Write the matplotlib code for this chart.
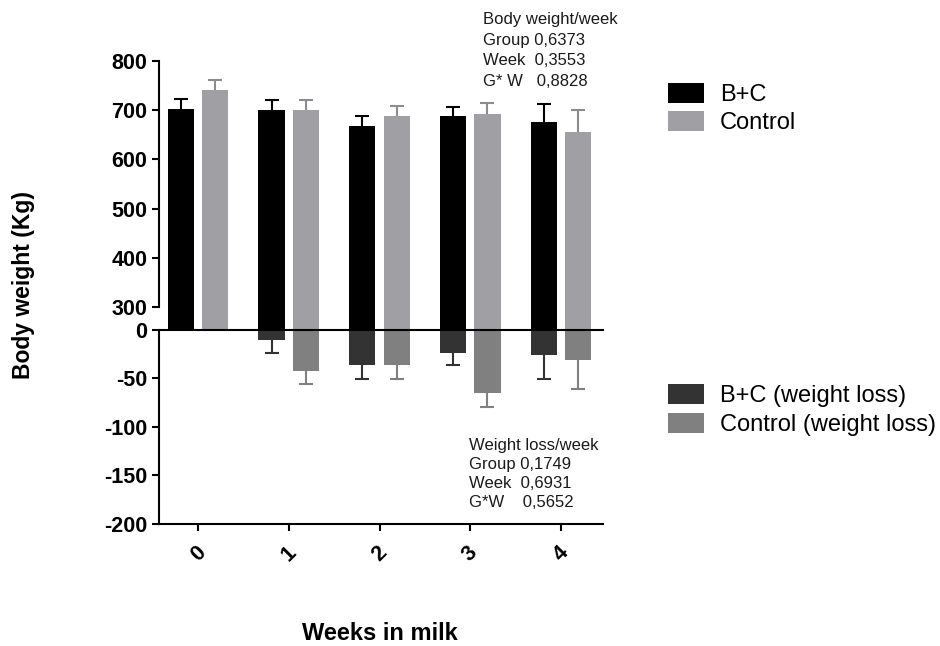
import matplotlib
matplotlib.use("Agg")
import matplotlib.pyplot as plt
from matplotlib.patches import Patch
import numpy as np

plt.rcParams['font.family'] = ['Liberation Sans', 'DejaVu Sans']

weeks = [0, 1, 2, 3, 4]
week_labels = ["0", "1", "2", "3", "4"]

bw_bc = [702, 700, 667, 688, 676]
bw_bc_err = [20, 20, 21, 19, 37]
bw_ctrl = [741, 700, 689, 693, 655]
bw_ctrl_err = [20, 20, 20, 22, 46]

wl_bc = [0, -11, -37, -24, -26]
wl_bc_err = [0, 13, 14, 13, 25]
wl_ctrl = [0, -43, -37, -65, -31]
wl_ctrl_err = [0, 13, 14, 15, 30]

top_text = "Body weight/week\nGroup 0,6373\nWeek  0,3553\nG* W   0,8828"
bottom_text = "Weight loss/week\nGroup 0,1749\nWeek  0,6931\nG*W    0,5652"

c_bc = "#000000"
c_ctrl = "#a0a0a4"
c_ctrl_err = "#8c8c90"
c_wbc = "#333333"
c_wctrl = "#808080"

W, H = 940, 646
fig = plt.figure(figsize=(W / 100, H / 100), dpi=100)

left = 159 / W
width = (603 - 159) / W
y0 = 329.5
ax_top = fig.add_axes([left, 1 - y0 / H, width, (y0 - 61) / H])
ax_bot = fig.add_axes([left, 1 - 524 / H, width, (524 - y0) / H])

x = np.array(weeks, dtype=float)
off = 0.19
bw = 0.29
lw = 1.5
cap = 9.4


def up_err(ax, xs, ys, errs, color, sign):
    xs = np.asarray(xs, float)
    ys = np.asarray(ys, float)
    errs = np.asarray(errs, float)
    m = errs > 0
    ends = ys[m] + sign * errs[m]
    ax.vlines(xs[m], ys[m], ends, colors=color, linewidth=lw)
    ax.plot(xs[m], ends, ls='none', marker='_', markersize=cap, markeredgewidth=lw,
            color=color)


ax_top.bar(x - off, bw_bc, width=bw, color=c_bc)
ax_top.bar(x + off, bw_ctrl, width=bw, color=c_ctrl)
up_err(ax_top, x - off, bw_bc, bw_bc_err, c_bc, 1)
up_err(ax_top, x + off, bw_ctrl, bw_ctrl_err, c_ctrl_err, 1)

ax_bot.bar(x - off, wl_bc, width=bw, color=c_wbc)
ax_bot.bar(x + off, wl_ctrl, width=bw, color=c_wctrl)
up_err(ax_bot, x - off, wl_bc, wl_bc_err, c_wbc, -1)
up_err(ax_bot, x + off, wl_ctrl, wl_ctrl_err, c_wctrl, -1)

tfs = 15.5
xl = (-0.43, 4.463)
for ax in (ax_top, ax_bot):
    ax.set_xlim(*xl)
    ax.patch.set_alpha(0)
    for s in ax.spines.values():
        s.set_linewidth(lw)
    ax.spines['right'].set_visible(False)
    ax.tick_params(axis='both', width=lw, length=5, labelsize=tfs)

ax_top.set_ylim(254.3, 800)
ax_top.set_yticks([300, 400, 500, 600, 700, 800])
ax_top.set_yticklabels(["300", "400", "500", "600", "700", "800"], fontweight='bold', fontsize=tfs)
ax_top.spines['top'].set_visible(False)
ax_top.spines['bottom'].set_visible(False)
ax_top.spines['left'].set_bounds(300, 800)
ax_top.set_xticks([])

ax_bot.set_ylim(-200, 0)
ax_bot.set_yticks([0, -50, -100, -150, -200])
ax_bot.set_yticklabels(["0", "-50", "-100", "-150", "-200"], fontweight='bold', fontsize=tfs)
ax_bot.spines['top'].set_visible(True)
ax_bot.set_xticks(x)
ax_bot.set_xticklabels(week_labels, rotation=45, ha='center', va='top',
                       fontweight='bold', fontsize=tfs)
ax_bot.tick_params(axis='x', pad=8)

fig.text(24 / W, 1 - 285 / H, "Body weight (Kg)", rotation=90, ha='center', va='center',
         fontsize=16.5, fontweight='bold')
fig.text(380 / W, 1 - 633 / H, "Weeks in milk", ha='center', va='center',
         fontsize=17, fontweight='bold')

fig.text(483 / W, 1 - 50.5 / H, top_text, ha='left', va='center', fontsize=12,
         linespacing=1.45, color='#1a1a1a')
fig.text(469 / W, 1 - 474 / H, bottom_text, ha='left', va='center', fontsize=12,
         linespacing=1.36, color='#1a1a1a')

fs = 17
fpx = fs * 100 / 72
hh = (20 / fpx - 0.245) / 0.65
h1 = [Patch(facecolor=c_bc, edgecolor='none'), Patch(facecolor=c_ctrl, edgecolor='none')]
fig.legend(h1, ["B+C", "Control"], loc='upper left',
           bbox_to_anchor=(668 / W, 1 - 83 / H), frameon=False, fontsize=fs,
           handlelength=36 / fpx, handleheight=hh, handletextpad=16 / fpx,
           labelspacing=0.2, borderpad=0, borderaxespad=0)
h2 = [Patch(facecolor=c_wbc, edgecolor='none'), Patch(facecolor=c_wctrl, edgecolor='none')]
fig.legend(h2, ["B+C (weight loss)", "Control (weight loss)"], loc='upper left',
           bbox_to_anchor=(668 / W, 1 - 384 / H), frameon=False, fontsize=fs,
           handlelength=36 / fpx, handleheight=hh, handletextpad=16 / fpx,
           labelspacing=0.24, borderpad=0, borderaxespad=0)

fig.savefig("out.png", dpi=100)
